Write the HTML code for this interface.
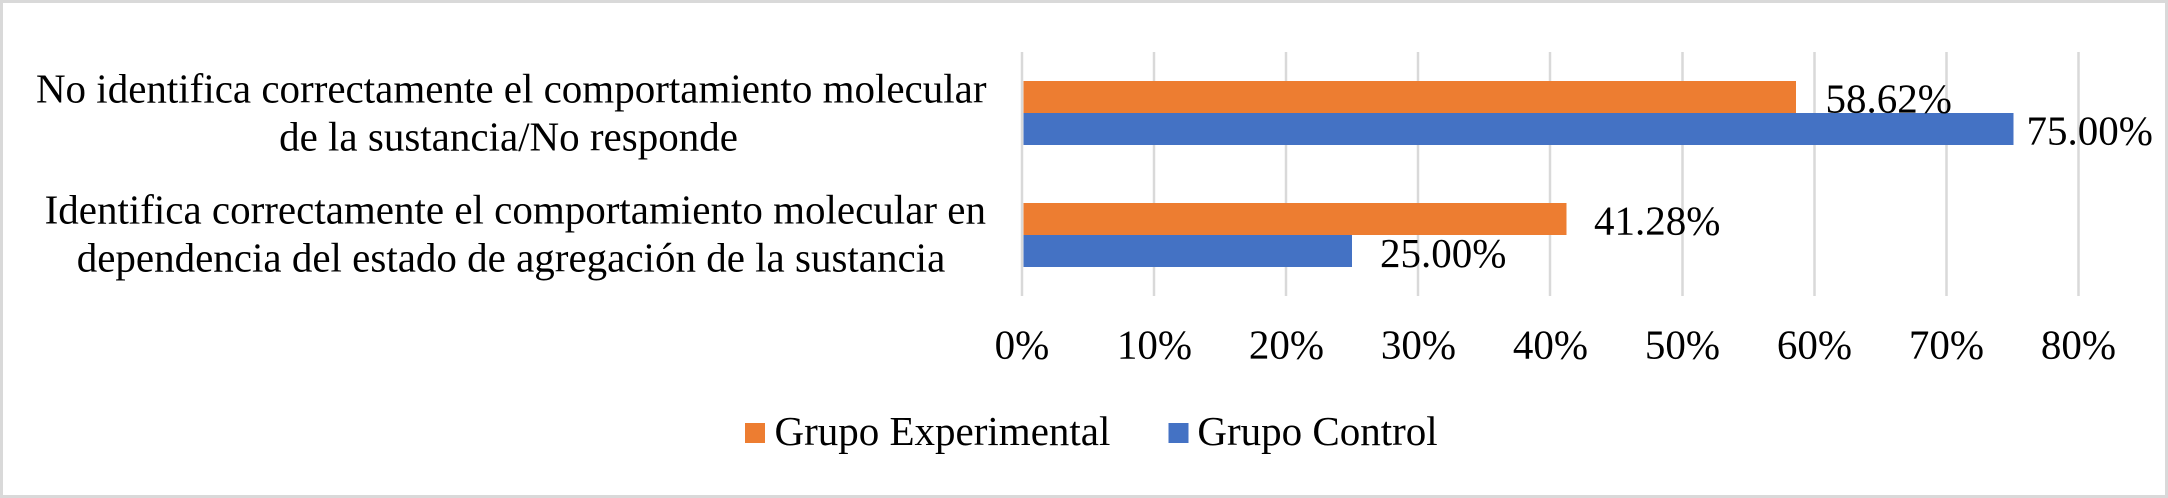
<!DOCTYPE html>
<html>
<head>
<meta charset="utf-8">
<style>
  html, body { margin: 0; padding: 0; background: #ffffff; }
  body { width: 2168px; height: 498px; overflow: hidden; }
  svg { display: block; }
  text { font-family: "Liberation Serif", "Times New Roman", serif; font-size: 41px; fill: #000000; }
</style>
</head>
<body>
<svg width="2168" height="498" viewBox="0 0 2168 498" xmlns="http://www.w3.org/2000/svg">
  <!-- background & border -->
  <rect x="0" y="0" width="2168" height="498" fill="#ffffff"/>
  <rect x="1.5" y="1.5" width="2165" height="495" fill="none" stroke="#d9d9d9" stroke-width="3"/>

  <!-- gridlines -->
  <g stroke="#d9d9d9" stroke-width="2.5">
    <line x1="1022" y1="52" x2="1022" y2="296"/>
    <line x1="1154" y1="52" x2="1154" y2="296"/>
    <line x1="1286" y1="52" x2="1286" y2="296"/>
    <line x1="1418" y1="52" x2="1418" y2="296"/>
    <line x1="1550" y1="52" x2="1550" y2="296"/>
    <line x1="1682.5" y1="52" x2="1682.5" y2="296"/>
    <line x1="1814.5" y1="52" x2="1814.5" y2="296"/>
    <line x1="1946.5" y1="52" x2="1946.5" y2="296"/>
    <line x1="2078.5" y1="52" x2="2078.5" y2="296"/>
  </g>

  <!-- bars -->
  <rect x="1023.5" y="81" width="772.5" height="32" fill="#ED7D31"/>
  <rect x="1023.5" y="113" width="990" height="32" fill="#4472C4"/>
  <rect x="1023.5" y="203" width="543" height="32" fill="#ED7D31"/>
  <rect x="1023.5" y="235" width="328.5" height="32" fill="#4472C4"/>

  <!-- data labels -->
  <text x="1825.5" y="112.3">58.62%</text>
  <text x="2026.5" y="144.3">75.00%</text>
  <text x="1594" y="234.3">41.28%</text>
  <text x="1380" y="267">25.00%</text>

  <!-- category labels -->
  <text x="986.5" y="102.7" text-anchor="end">No identifica correctamente el comportamiento molecular</text>
  <text x="508.5" y="150.7" text-anchor="middle">de la sustancia/No responde</text>
  <text x="986" y="223.3" text-anchor="end">Identifica correctamente el comportamiento molecular en</text>
  <text x="511" y="271.6" text-anchor="middle">dependencia del estado de agregación de la sustancia</text>

  <!-- x tick labels -->
  <g text-anchor="middle">
    <text x="1022" y="358.3">0%</text>
    <text x="1154.5" y="358.3">10%</text>
    <text x="1286.5" y="358.3">20%</text>
    <text x="1418.5" y="358.3">30%</text>
    <text x="1550.5" y="358.3">40%</text>
    <text x="1682.5" y="358.3">50%</text>
    <text x="1814.5" y="358.3">60%</text>
    <text x="1946.5" y="358.3">70%</text>
    <text x="2078.5" y="358.3">80%</text>
  </g>

  <!-- legend -->
  <rect x="745" y="423" width="20" height="20" fill="#ED7D31"/>
  <text x="774.5" y="445">Grupo Experimental</text>
  <rect x="1168.5" y="423" width="20" height="20" fill="#4472C4"/>
  <text x="1197.4" y="445">Grupo Control</text>
</svg>
</body>
</html>
